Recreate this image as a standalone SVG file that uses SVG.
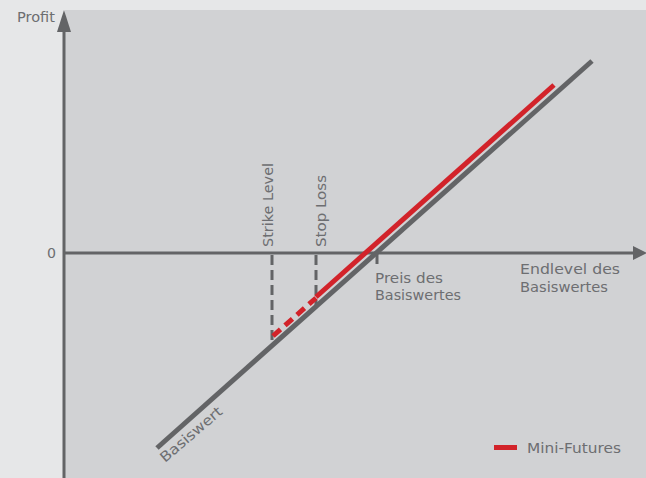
<svg xmlns="http://www.w3.org/2000/svg" width="646" height="478" viewBox="0 0 646 478">
<style>
.t{font-family:"DejaVu Sans","Liberation Sans",sans-serif;font-size:14px;fill:#6d6e71}
.ax{stroke:#636466;stroke-width:3;fill:none}
.dash{stroke:#636466;stroke-width:3;stroke-dasharray:10 5;fill:none}
</style>
<rect x="0" y="0" width="646" height="478" fill="#e6e7e8"/>
<rect x="65" y="10" width="581" height="468" fill="#d1d2d4"/>
<g id="connectors">
<line class="ax" x1="64" y1="478" x2="64" y2="28"/>
<polygon points="64,10 57,32 71,32" fill="#636466"/>
<line class="ax" x1="64" y1="253" x2="636" y2="253"/>
<polygon points="647,253 633,246 633,260" fill="#636466"/>
<line class="dash" x1="272" y1="255" x2="272" y2="344"/>
<line class="dash" x1="316" y1="255" x2="316" y2="305"/>
<line class="ax" x1="377" y1="253" x2="377" y2="264"/>
<line x1="157" y1="448" x2="592" y2="61" stroke="#636466" stroke-width="5"/>
<line x1="273" y1="336" x2="316" y2="298" stroke="#d2232a" stroke-width="5" stroke-dasharray="10 6"/>
<line x1="316" y1="297" x2="554" y2="85" stroke="#d2232a" stroke-width="5"/>
</g>
<g id="labels">
<text class="t" x="17" y="22" textLength="38" lengthAdjust="spacingAndGlyphs">Profit</text>
<text class="t" x="47" y="258" textLength="9" lengthAdjust="spacingAndGlyphs">0</text>
<text class="t" transform="translate(273,247) rotate(-90)" textLength="84" lengthAdjust="spacingAndGlyphs">Strike Level</text>
<text class="t" transform="translate(326,247) rotate(-90)" textLength="72" lengthAdjust="spacingAndGlyphs">Stop Loss</text>
<text class="t" x="375" y="283" textLength="68" lengthAdjust="spacingAndGlyphs">Preis des</text>
<text class="t" x="375" y="300" textLength="86" lengthAdjust="spacingAndGlyphs">Basiswertes</text>
<text class="t" x="520" y="274" textLength="100" lengthAdjust="spacingAndGlyphs">Endlevel des</text>
<text class="t" x="520" y="292" textLength="88" lengthAdjust="spacingAndGlyphs">Basiswertes</text>
<text class="t" transform="translate(165,463) rotate(-40.5)" textLength="77" lengthAdjust="spacingAndGlyphs">Basiswert</text>
</g>
<g id="legend">
<rect x="494" y="445" width="23" height="5" fill="#d2232a"/>
<text class="t" x="527" y="453" textLength="94" lengthAdjust="spacingAndGlyphs">Mini-Futures</text>
</g>
</svg>
